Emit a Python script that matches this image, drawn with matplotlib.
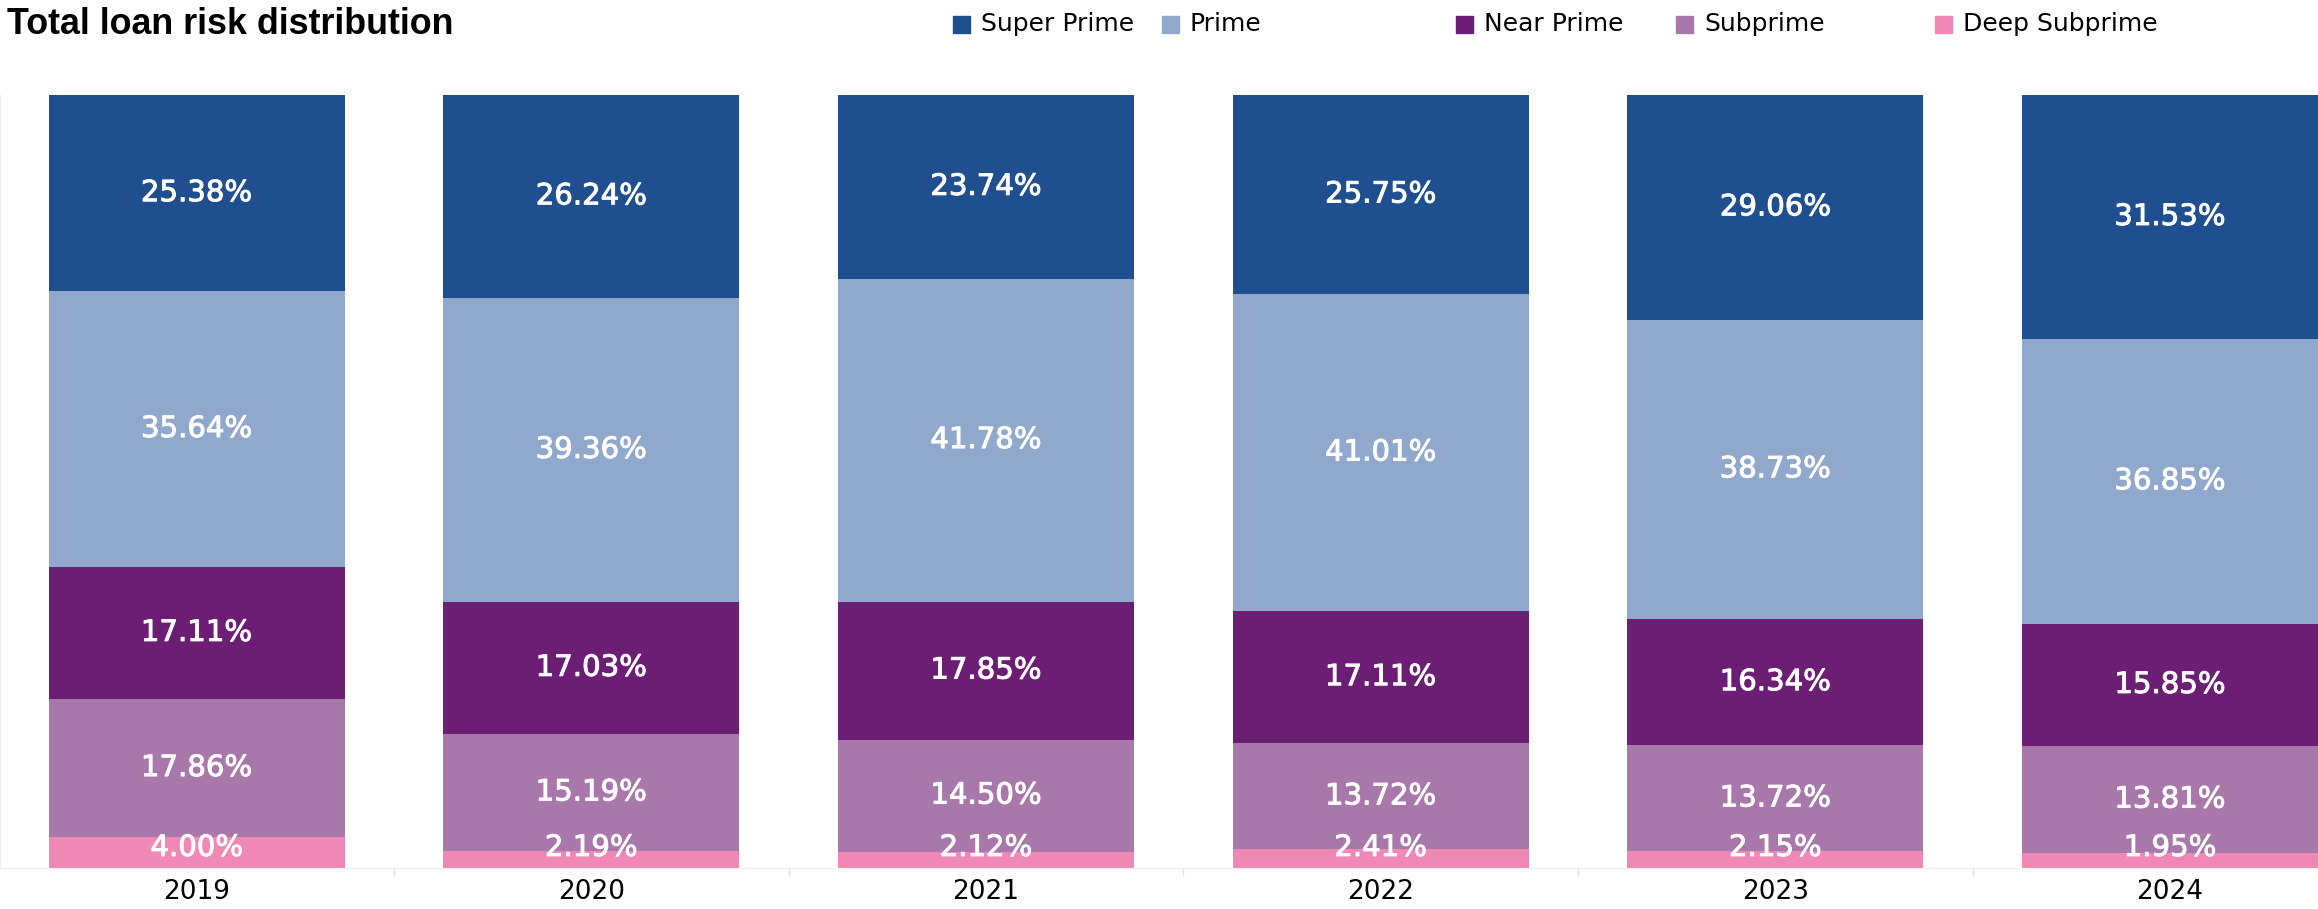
import numpy as np
import matplotlib
matplotlib.use("Agg")
import matplotlib.pyplot as plt
import matplotlib.patheffects as pe
from matplotlib.patches import Rectangle

years = ["2019", "2020", "2021", "2022", "2023", "2024"]
segments = ["Super Prime", "Prime", "Near Prime", "Subprime", "Deep Subprime"]
super_prime = [25.38, 26.24, 23.74, 25.75, 29.06, 31.53]
prime = [35.64, 39.36, 41.78, 41.01, 38.73, 36.85]
near_prime = [17.11, 17.03, 17.85, 17.11, 16.34, 15.85]
subprime = [17.86, 15.19, 14.50, 13.72, 13.72, 13.81]
deep_subprime = [4.00, 2.19, 2.12, 2.41, 2.15, 1.95]

COLORS = ["#1f4f8f", "#8fa8cb", "#6b1e74", "#a878ab", "#f088b6"]

fig = plt.figure(figsize=(23.18, 9.09), dpi=100)
ax = fig.add_axes([0.0, 1 - 868 / 909, 1.0, (868 - 95) / 909])

# stack from the bottom: deep subprime first, super prime on top
stack = [deep_subprime, subprime, near_prime, prime, super_prime]
stack_colors = COLORS[::-1]
x = np.arange(len(years))
bottom = np.zeros(len(years))
thicken = [pe.withStroke(linewidth=0.7, foreground="white")]
for vals, col in zip(stack, stack_colors):
    vals = np.array(vals)
    ax.bar(x, vals, width=0.75, bottom=bottom, color=col, linewidth=0, zorder=2)
    for xi, b, v in zip(x, bottom, vals):
        # thin slices get their label nudged up so it stays readable
        yl = max(b + v / 2, 2.6)
        ax.text(xi, yl, f"{v:.2f}%", ha="center", va="center", color="white",
                fontsize=21, family="DejaVu Sans", zorder=3, path_effects=thicken)
    bottom += vals

ax.set_xlim(-0.498, 5.375)
ax.set_ylim(0, 100)
ax.set_yticks([])
ax.set_xticks(x)
ax.set_xticklabels(years, fontsize=19)
ax.tick_params(axis="x", length=0, pad=8)
ax.set_xticks(x[:-1] + 0.5, minor=True)
ax.tick_params(axis="x", which="minor", length=6, color="#e6e6e6", width=1)
for s in ("top", "right"):
    ax.spines[s].set_visible(False)
ax.spines["left"].set_color("#eeeeee")
ax.spines["bottom"].set_color("#eeeeee")

fig.text(0.003, 1 - 25 / 909, "Total loan risk distribution", family="Liberation Sans",
         fontsize=25.8, fontweight="bold", ha="left", va="center")

# legend row along the top
leg_x = [953, 1162, 1456, 1676, 1935]
for px, name, col in zip(leg_x, segments, COLORS):
    fig.patches.append(Rectangle((px / 2318, 1 - 33 / 909), 17 / 2318, 17 / 909,
                                 transform=fig.transFigure, color=col))
    fig.text((px + 28) / 2318, 1 - 24 / 909, name, fontsize=18,
             ha="left", va="center")

fig.savefig("out.png", dpi=100)
